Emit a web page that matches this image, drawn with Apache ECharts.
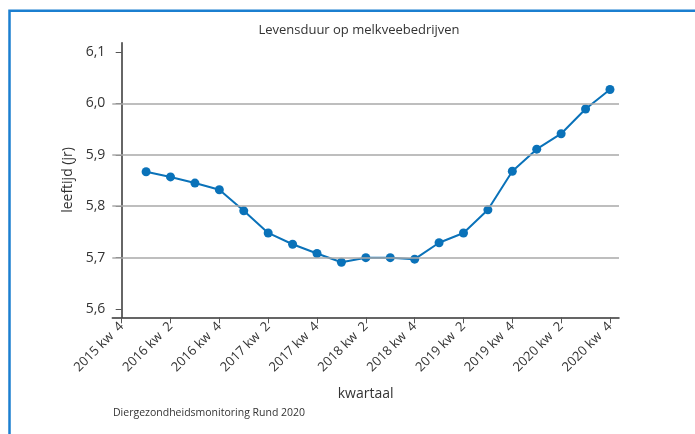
<!DOCTYPE html>
<html>
<head>
<meta charset="utf-8">
<script src="https://cdn.jsdelivr.net/npm/echarts@6/dist/echarts.min.js"></script>
<style>
  html, body { margin: 0; padding: 0; background: #fff; }
  #chart { width: 695px; height: 434px; }
</style>
</head>
<body>
<div id="chart"></div>
<script>
// kwartalen, 2015 kw 4 heeft geen waarde
const quarters = [
  "2015 kw 4",
  "2016 kw 1", "2016 kw 2", "2016 kw 3", "2016 kw 4",
  "2017 kw 1", "2017 kw 2", "2017 kw 3", "2017 kw 4",
  "2018 kw 1", "2018 kw 2", "2018 kw 3", "2018 kw 4",
  "2019 kw 1", "2019 kw 2", "2019 kw 3", "2019 kw 4",
  "2020 kw 1", "2020 kw 2", "2020 kw 3", "2020 kw 4",
];
const lifespan = [
  null,
  5.867, 5.857, 5.845, 5.832,
  5.791, 5.748, 5.726, 5.708,
  5.691, 5.700, 5.700, 5.697,
  5.729, 5.748, 5.793, 5.868,
  5.911, 5.941, 5.989, 6.027,
];
const xTickIndex = [0, 2, 4, 6, 8, 10, 12, 14, 16, 18, 20];
const yTicks = [5.6, 5.7, 5.8, 5.9, 6.0, 6.1];
const gridLines = [5.7, 5.8, 5.9, 6.0];

const font = "'Open Sans', sans-serif";
const textColor = "#333";
const blue = "#0a72b9";

const chart = echarts.init(document.getElementById("chart"));
chart.setOption({
  animation: false,
  textStyle: { fontFamily: font },
  grid: { left: 112.3, right: 76, top: 42.7, bottom: 116.7 },
  xAxis: {
    type: "value",
    min: -0.385,
    max: 20.37,
    name: "kwartaal",
    nameLocation: "middle",
    nameGap: 70,
    nameTextStyle: { fontSize: 14, color: textColor, fontFamily: font },
    axisLine: { lineStyle: { color: "#333", width: 1.5 } },
    axisTick: { customValues: xTickIndex, length: 6, lineStyle: { color: "#555" } },
    axisLabel: {
      customValues: xTickIndex,
      rotate: 45,
      margin: 7,
      fontSize: 13,
      color: textColor,
      fontFamily: font,
      // iets meer ruimte voor het kwartaalnummer, zoals in het origineel
      formatter: (v) => quarters[Math.round(v)].replace(" kw ", " kw  "),
    },
    splitLine: { show: false },
  },
  yAxis: {
    type: "value",
    min: 5.584,
    max: 6.118,
    name: "leeftijd (jr)",
    nameLocation: "middle",
    nameGap: 37,
    nameTextStyle: { fontSize: 14, color: textColor, fontFamily: font },
    axisLine: { show: true, lineStyle: { color: "#333", width: 1.5 } },
    axisTick: { show: true, customValues: yTicks, length: 6, lineStyle: { color: "#555" } },
    axisLabel: {
      customValues: yTicks,
      margin: 7,
      fontSize: 14,
      color: textColor,
      fontFamily: font,
      formatter: (v) => v.toFixed(1).replace(".", ","),
    },
    splitLine: { show: false },
  },
  series: [
    {
      // rasterlijnen
      type: "line",
      data: [],
      z: 1,
      silent: true,
      markLine: {
        silent: true,
        symbol: "none",
        label: { show: false },
        lineStyle: { color: "#a8a8a8", width: 1.5, type: "solid" },
        data: gridLines.map((v) => ({ yAxis: v })),
      },
    },
    {
      type: "line",
      z: 3,
      data: quarters.map((q, i) => [i, lifespan[i]]),
      symbol: "circle",
      symbolSize: 9,
      itemStyle: { color: blue },
      lineStyle: { color: blue, width: 2 },
    },
  ],
  graphic: [
    {
      type: "rect",
      shape: { x: 9.5, y: 10.8, width: 720, height: 460 },
      style: { fill: "none", stroke: "#1b7fd0", lineWidth: 2.5 },
    },
    {
      type: "text",
      x: 359,
      y: 30,
      style: {
        text: "Levensduur op melkveebedrijven",
        align: "center",
        verticalAlign: "middle",
        fontSize: 13,
        fontFamily: font,
        fill: textColor,
      },
    },
    {
      type: "text",
      x: 113,
      y: 413,
      style: {
        text: "Diergezondheidsmonitoring Rund 2020",
        align: "left",
        verticalAlign: "middle",
        fontSize: 10.5,
        fontFamily: font,
        fill: textColor,
      },
    },
  ],
});
</script>
</body>
</html>
